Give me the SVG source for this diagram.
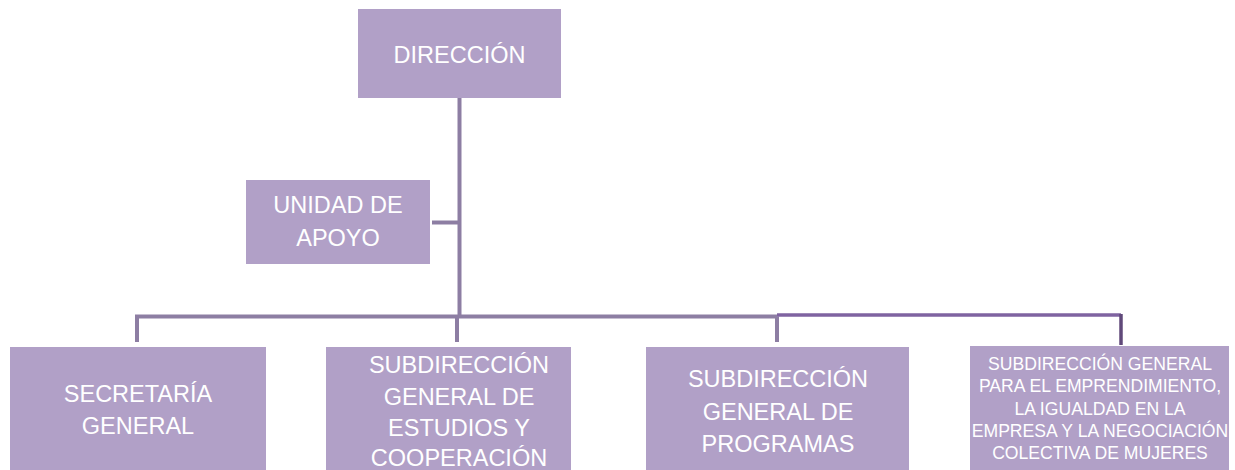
<svg xmlns="http://www.w3.org/2000/svg" width="1235" height="470" viewBox="0 0 1235 470">
<style>
.box{fill:#b1a0c7;}
.t{fill:#ffffff;font-family:"Liberation Sans",Arial,sans-serif;font-size:23.5px;text-anchor:middle;}
.s{font-size:17.6px;}
.c{stroke:#8d7ea3;stroke-width:4;fill:none;}
.p{stroke:#7f63a1;stroke-width:3.5;fill:none;}
.pd{stroke:#60497a;stroke-width:3.5;fill:none;}
</style>
<rect width="1235" height="470" fill="#ffffff"/>
<g id="connectors">
<line class="c" x1="459.5" y1="97" x2="459.5" y2="318"/>
<line class="c" x1="432" y1="222.5" x2="459.5" y2="222.5"/>
<polyline class="c" points="137,342 137,316.5 777,316.5"/>
<line class="c" x1="457" y1="316.5" x2="457" y2="342"/>
<line class="c" x1="777" y1="316.5" x2="777" y2="342"/>
<polyline class="p" points="777,315 1121,315"/>
<line class="pd" x1="1121" y1="314" x2="1121" y2="345"/>
</g>
<g id="direccion">
<rect class="box" x="358" y="9" width="203" height="89"/>
<text class="t" x="459.5" y="63">DIRECCIÓN</text>
</g>
<g id="unidad-apoyo">
<rect class="box" x="246" y="180" width="184" height="84"/>
<text class="t" x="338" y="213">UNIDAD DE</text>
<text class="t" x="338" y="246">APOYO</text>
</g>
<g id="secretaria-general">
<rect class="box" x="10" y="347" width="256" height="123"/>
<text class="t" x="138" y="402">SECRETARÍA</text>
<text class="t" x="138" y="434">GENERAL</text>
</g>
<g id="sg-estudios">
<rect class="box" x="326" y="347" width="245" height="123"/>
<text class="t" x="459" y="373">SUBDIRECCIÓN</text>
<text class="t" x="459" y="405">GENERAL DE</text>
<text class="t" x="459" y="436">ESTUDIOS Y</text>
<text class="t" x="459" y="466">COOPERACIÓN</text>
</g>
<g id="sg-programas">
<rect class="box" x="646" y="347" width="263" height="123"/>
<text class="t" x="778" y="387">SUBDIRECCIÓN</text>
<text class="t" x="778" y="420">GENERAL DE</text>
<text class="t" x="778" y="452">PROGRAMAS</text>
</g>
<g id="sg-emprendimiento">
<rect class="box" x="970" y="346" width="259" height="124"/>
<text class="t s" x="1100" y="370">SUBDIRECCIÓN GENERAL</text>
<text class="t s" x="1100" y="392">PARA EL EMPRENDIMIENTO,</text>
<text class="t s" x="1100" y="415">LA IGUALDAD EN LA</text>
<text class="t s" x="1100" y="437">EMPRESA Y LA NEGOCIACIÓN</text>
<text class="t s" x="1100" y="459">COLECTIVA DE MUJERES</text>
</g>
</svg>
